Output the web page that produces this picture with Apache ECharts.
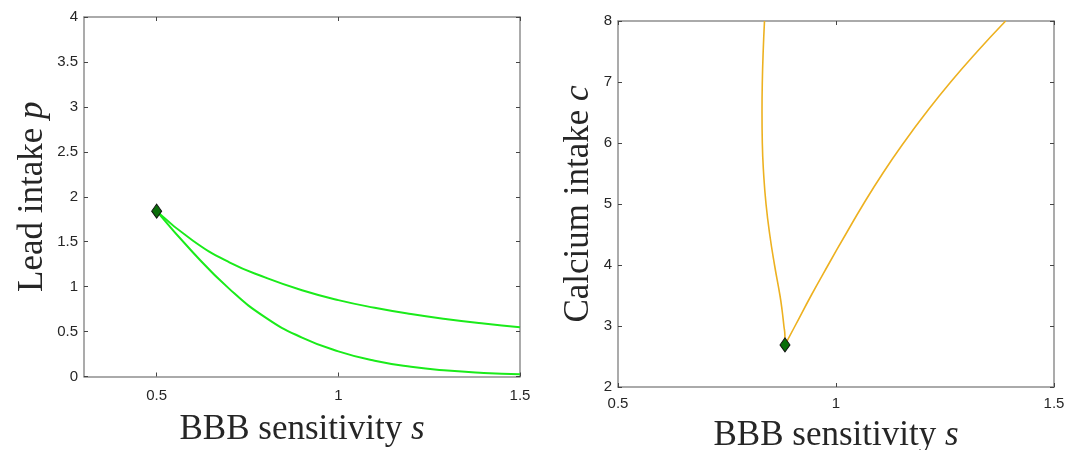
<!DOCTYPE html>
<html>
<head>
<meta charset="utf-8">
<script src="https://cdn.jsdelivr.net/npm/echarts@6/dist/echarts.min.js"></script>
<style>
html,body{margin:0;padding:0;background:#fff;}
#chart{width:1083px;height:450px;}
</style>
</head>
<body>
<div id="chart"></div>
<script>
// ---- Data ----
// Left panel: lead intake p vs BBB sensitivity s
const leadUpperS = [0.5, 0.6, 0.7, 0.8, 0.9, 1.0, 1.1, 1.2, 1.3, 1.4, 1.5];
const leadUpperP = [1.84, 1.51, 1.27, 1.10, 0.96, 0.85, 0.765, 0.695, 0.637, 0.589, 0.549];
const leadLowerS = [0.5, 0.6, 0.7, 0.8, 0.9, 1.0, 1.1, 1.2, 1.3, 1.4, 1.5];
const leadLowerP = [1.84, 1.38, 0.975, 0.655, 0.433, 0.28, 0.175, 0.108, 0.066, 0.040, 0.024];
const leadPointS = [0.5];
const leadPointP = [1.84];

// Right panel: calcium intake c vs BBB sensitivity s
const calcLeftS = [0.883, 0.8828, 0.8805, 0.8765, 0.8715, 0.859, 0.848, 0.8395, 0.834, 0.831, 0.8303, 0.831, 0.833, 0.836];
const calcLeftC = [2.69, 2.85, 3.0, 3.25, 3.5, 4.0, 4.5, 5.0, 5.5, 6.0, 6.5, 7.0, 7.5, 8.0];
const calcRightS = [0.883, 0.906, 0.943, 0.982, 1.022, 1.063, 1.107, 1.155, 1.207, 1.263, 1.324, 1.389];
const calcRightC = [2.69, 3.0, 3.5, 4.0, 4.5, 5.0, 5.5, 6.0, 6.5, 7.0, 7.5, 8.0];
const calcPointS = [0.883];
const calcPointC = [2.69];

// Tick labels
const leadXTicks = [0.5, 1, 1.5];
const leadYTicks = [0, 0.5, 1, 1.5, 2, 2.5, 3, 3.5, 4];
const calcXTicks = [0.5, 1, 1.5];
const calcYTicks = [2, 3, 4, 5, 6, 7, 8];

// Axis titles
const leadXName = 'BBB sensitivity {i|s}';
const leadYName = 'Lead intake {i|p}';
const calcXName = 'BBB sensitivity {i|s}';
const calcYName = 'Calcium intake {i|c}';

const zip = (a, b) => a.map((v, i) => [v, b[i]]);

// ---- Styles ----
const boxColor = '#8f8f8f';
const labelColor = '#262626';
const tickStyle = { show: true, inside: true, length: 4, lineStyle: { color: '#444', width: 1 } };
const nameStyle = {
  fontFamily: 'Liberation Serif', fontSize: 35, color: labelColor,
  rich: { i: { fontFamily: 'Liberation Serif', fontStyle: 'italic', fontSize: 35, color: labelColor } }
};
const labelStyle = { fontFamily: 'Liberation Sans', fontSize: 15, color: labelColor };

function mainX(gridIndex, min, max, ticks, name, gap, margin) {
  return {
    type: 'value', gridIndex, position: 'bottom', min, max,
    axisLine: { show: true, onZero: false, lineStyle: { color: boxColor, width: 1.5 } },
    axisTick: Object.assign({ customValues: ticks }, tickStyle),
    axisLabel: Object.assign({ customValues: ticks, margin, showMinLabel: true, showMaxLabel: true }, labelStyle),
    splitLine: { show: false },
    name, nameLocation: 'middle', nameGap: gap, nameTextStyle: nameStyle
  };
}
function mirrorX(gridIndex, min, max, ticks) {
  return {
    type: 'value', gridIndex, position: 'top', min, max,
    axisLine: { show: true, onZero: false, lineStyle: { color: boxColor, width: 1.5 } },
    axisTick: Object.assign({ customValues: ticks }, tickStyle),
    axisLabel: { show: false }, splitLine: { show: false }
  };
}
function mainY(gridIndex, min, max, ticks, name, gap) {
  return {
    type: 'value', gridIndex, position: 'left', min, max,
    axisLine: { show: true, onZero: false, lineStyle: { color: boxColor, width: 1.5 } },
    axisTick: Object.assign({ customValues: ticks }, tickStyle),
    axisLabel: Object.assign({ customValues: ticks, margin: 6, showMinLabel: true, showMaxLabel: true }, labelStyle),
    splitLine: { show: false },
    name, nameLocation: 'middle', nameRotate: 90, nameGap: gap, nameTextStyle: nameStyle
  };
}
function mirrorY(gridIndex, min, max, ticks) {
  return {
    type: 'value', gridIndex, position: 'right', min, max,
    axisLine: { show: true, onZero: false, lineStyle: { color: boxColor, width: 1.5 } },
    axisTick: Object.assign({ customValues: ticks }, tickStyle),
    axisLabel: { show: false }, splitLine: { show: false }
  };
}

const diamond = {
  symbol: 'diamond', symbolSize: [10, 14],
  itemStyle: { color: '#0a6e0a', borderColor: '#111', borderWidth: 1, opacity: 1 }
};

const chart = echarts.init(document.getElementById('chart'), null, { renderer: 'canvas' });
chart.setOption({
  backgroundColor: '#ffffff',
  animation: false,
  grid: [
    { left: 84, top: 17, width: 436, height: 359.5, containLabel: false, outerBoundsMode: 'none' },
    { left: 618, top: 21, width: 436, height: 366, containLabel: false, outerBoundsMode: 'none' }
  ],
  xAxis: [
    mainX(0, 0.3, 1.5, leadXTicks, leadXName, 36, 12),
    mirrorX(0, 0.3, 1.5, leadXTicks),
    mainX(1, 0.5, 1.5, calcXTicks, calcXName, 31, 9),
    mirrorX(1, 0.5, 1.5, calcXTicks)
  ],
  yAxis: [
    mainY(0, 0, 4, leadYTicks, leadYName, 34),
    mirrorY(0, 0, 4, leadYTicks),
    mainY(1, 2, 8, calcYTicks, calcYName, 22),
    mirrorY(1, 2, 8, calcYTicks)
  ],
  series: [
    { type: 'line', xAxisIndex: 0, yAxisIndex: 0, data: zip(leadUpperS, leadUpperP), smooth: 0.5, showSymbol: false,
      lineStyle: { color: '#1aeb1a', width: 2 }, z: 2 },
    { type: 'line', xAxisIndex: 0, yAxisIndex: 0, data: zip(leadLowerS, leadLowerP), smooth: 0.5, showSymbol: false,
      lineStyle: { color: '#1aeb1a', width: 2 }, z: 2 },
    Object.assign({ type: 'scatter', xAxisIndex: 0, yAxisIndex: 0, data: zip(leadPointS, leadPointP), z: 5 }, diamond),
    { type: 'line', xAxisIndex: 2, yAxisIndex: 2, data: zip(calcLeftS, calcLeftC), smooth: 0.5, showSymbol: false,
      lineStyle: { color: '#EDB120', width: 1.6 }, z: 2 },
    { type: 'line', xAxisIndex: 2, yAxisIndex: 2, data: zip(calcRightS, calcRightC), smooth: 0.5, showSymbol: false,
      lineStyle: { color: '#EDB120', width: 1.6 }, z: 2 },
    Object.assign({ type: 'scatter', xAxisIndex: 2, yAxisIndex: 2, data: zip(calcPointS, calcPointC), z: 5 }, diamond)
  ]
});
</script>
</body>
</html>
